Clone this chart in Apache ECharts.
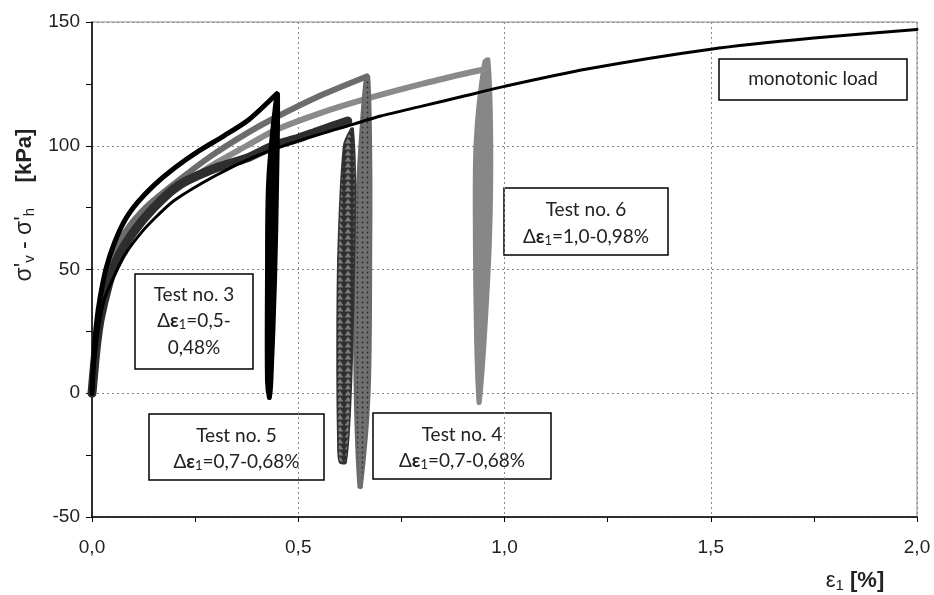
<!DOCTYPE html>
<html><head><meta charset="utf-8">
<script src="https://cdn.jsdelivr.net/npm/echarts@6/dist/echarts.min.js"></script>
<style>html,body{margin:0;padding:0;background:#fff}#c{width:934px;height:595px}</style>
</head><body><div id="c"></div>
<script>
// ---- data (strain % , deviator stress kPa) ----
const xTickValues = [0, 0.5, 1.0, 1.5, 2.0];
const yTickValues = [-50, 0, 50, 100, 150];

const monotonic = [[0,0],[0.005,10],[0.015,25],[0.03,38],[0.05,46],[0.08,56],[0.12,65],[0.16,72],[0.2,78],[0.3,88],[0.4,96],[0.5,102],[0.6,107],[0.7,112],[0.8,116],[0.9,120],[1.0,124],[1.2,131],[1.5,139],[1.75,143.5],[2.0,147]];

const test3Load = [[0,0],[0.004,14],[0.01,27],[0.02,39],[0.035,51],[0.055,61],[0.08,70],[0.11,77],[0.15,84],[0.2,91],[0.26,98],[0.32,104],[0.38,110.5],[0.448,121]];
const test3Band = [[0.446,121],[0.426,86],[0.423,46],[0.423,5],[0.428,-2],[0.432,-2],[0.436,5],[0.445,46],[0.45,86],[0.452,121]];

const test4Load = [[0,0],[0.005,13],[0.01,23],[0.02,35],[0.03,44],[0.05,55],[0.08,65],[0.13,75],[0.21,86],[0.29,96],[0.375,105],[0.44,111],[0.55,120],[0.666,128]];
const test4Band = [[0.662,128],[0.646,94],[0.636,60],[0.637,0],[0.646,-38],[0.654,-38],[0.673,0],[0.677,60],[0.677,94],[0.672,128]];

const test5Load = [[0,0],[0.01,18],[0.02,30],[0.04,44],[0.06,54],[0.1,65],[0.15,75],[0.21,84],[0.3,91],[0.375,95],[0.44,100],[0.5,103],[0.55,106],[0.62,110]];
const test5Band = [[0.628,107],[0.61,100],[0.597,60],[0.594,20],[0.596,-20],[0.6,-28],[0.616,-28],[0.628,0],[0.636,51],[0.638,90],[0.633,107]];

const test6Load = [[0,0],[0.005,12],[0.01,21],[0.02,33],[0.03,42],[0.05,53],[0.08,63],[0.13,73],[0.21,83],[0.29,92],[0.375,100],[0.44,106],[0.55,113],[0.666,119],[0.8,125],[0.9,129],[0.955,131]];
const test6Band = [[0.95,134],[0.929,102],[0.927,62],[0.93,21],[0.936,-4],[0.941,-4],[0.953,21],[0.966,62],[0.969,102],[0.962,135]];

// ---- patterns ----
function triPattern(){
  const c=document.createElement('canvas'); c.width=8; c.height=6;
  const g=c.getContext('2d'); g.fillStyle='#2e2e2e'; g.fillRect(0,0,8,6);
  g.beginPath(); g.moveTo(4,0.6); g.lineTo(7.4,5.4); g.lineTo(0.6,5.4); g.closePath();
  g.fillStyle='#7c7c7c'; g.fill(); return c;
}
function dotPattern(){
  const c=document.createElement('canvas'); c.width=5; c.height=5;
  const g=c.getContext('2d'); g.fillStyle='#707070'; g.fillRect(0,0,5,5);
  g.beginPath(); g.arc(2.5,2.5,0.9,0,Math.PI*2); g.fillStyle='#2a2a2a'; g.fill(); return c;
}

function lineSeries(name, data, color, width, z){
  return {type:'line', name, data, z, showSymbol:false, smooth:0.25, silent:true,
    lineStyle:{color, width, cap:'round', join:'round'}, animation:false};
}
function bandSeries(name, pts, fill, stroke, lw, z){
  return {type:'custom', name, z, silent:true, animation:false,
    data:[pts[0]],
    renderItem:function(params, api){
      return {type:'polygon', shape:{points: pts.map(p=>api.coord(p)), smooth:0.3},
        style:{fill, stroke, lineWidth:lw, lineJoin:'round'}};
    }};
}

const chart = echarts.init(document.getElementById('c'));
const axisFont = {fontFamily:'Liberation Sans', fontSize:19, color:'#222'};
const boxFont = 'Lato';
const BF = 19;
function box(x,y,w,h,lines,lineY){
  const children=[{type:'rect', shape:{x,y,width:w,height:h}, style:{fill:'#fff', stroke:'#000', lineWidth:1.5}}];
  lines.forEach((t,i)=>children.push({type:'text', x:x+w/2, y:lineY[i], style:{text:t, align:'center', verticalAlign:'middle', fontFamily:boxFont, fontSize:BF, fill:'#222',
    rich:{n:{fontFamily:boxFont,fontSize:BF,fill:'#222'}, b:{fontFamily:boxFont,fontSize:BF,fontWeight:'bold',fill:'#222'}, s:{fontFamily:boxFont,fontSize:13,fill:'#222',padding:[8,0,0,0]}}}}));
  return {type:'group', z:100, children};
}

chart.setOption({
  animation:false,
  grid:{left:92, right:17, top:22, bottom:78, show:true, borderColor:'#8c8c8c', borderWidth:1},
  xAxis:{type:'value', min:0, max:2, interval:0.5,
    axisLine:{show:true, onZero:false, lineStyle:{color:'#000', width:1.5}},
    axisTick:{show:true, length:5, inside:false, lineStyle:{color:'#000'}},
    minorTick:{show:true, splitNumber:2, length:5, lineStyle:{color:'#000'}},
    splitLine:{show:true, lineStyle:{color:'#888', type:[2,3], width:1}},
    axisLabel:Object.assign({margin:21, formatter:v=>v.toFixed(1).replace('.',',')}, axisFont)},
  yAxis:{type:'value', min:-50, max:150, interval:50,
    axisLine:{show:true, onZero:false, lineStyle:{color:'#000', width:1.5}},
    axisTick:{show:true, length:6, lineStyle:{color:'#000'}},
    minorTick:{show:true, splitNumber:2, length:6, lineStyle:{color:'#000'}},
    splitLine:{show:true, lineStyle:{color:'#888', type:[2,3], width:1}},
    axisLabel:Object.assign({margin:12, formatter:v=>String(v)}, axisFont)},
  series:[
    bandSeries('Test 6 cycles', test6Band, '#878787', '#878787', 3, 2),
    lineSeries('Test 6', test6Load, '#8a8a8a', 6, 2),
    bandSeries('Test 4 cycles', test4Band, {image:dotPattern(), repeat:'repeat'}, '#6a6a6a', 2, 3),
    lineSeries('Test 4', test4Load, '#6c6c6c', 6, 3),
    bandSeries('Test 5 cycles', test5Band, {image:triPattern(), repeat:'repeat'}, '#333', 1.5, 4),
    lineSeries('Test 5', test5Load, '#2e2e2e', 9, 4),
    bandSeries('Test 3 cycles', test3Band, '#000', '#000', 3, 5),
    lineSeries('Test 3', test3Load, '#000', 5, 5),
    lineSeries('monotonic load', monotonic, '#000', 3, 6)
  ],
  graphic:[
    box(719,59,188,41,['monotonic load'],[79]),
    box(504,188,164,67,['Test no. 6','{n|Δ}{b|ε}{s|1}{n|=1,0-0,98%}'],[210,237]),
    box(373,413,178,66,['Test no. 4','{n|Δ}{b|ε}{s|1}{n|=0,7-0,68%}'],[435,461]),
    box(149,414,175,66,['Test no. 5','{n|Δ}{b|ε}{s|1}{n|=0,7-0,68%}'],[436,462]),
    box(135,274,118,95,['Test no. 3','{n|Δ}{b|ε}{s|1}{n|=0,5-}','0,48%'],[295,321,348]),
    {type:'text', x:25, y:205, rotation:Math.PI/2, z:100, style:{
      text:"{a|σ'}{s|v}{a| - σ'}{s|h}{a|    }{b|[kPa]}", align:'center', verticalAlign:'middle',
      rich:{a:{fontFamily:'Liberation Sans',fontSize:23,fill:'#222'}, s:{fontFamily:'Liberation Sans',fontSize:15,fill:'#222',padding:[10,0,0,0]}, b:{fontFamily:'Liberation Sans',fontSize:22,fontWeight:'bold',fill:'#222'}}}},
    {type:'text', x:855, y:581, z:100, style:{
      text:"{a|ε}{s|1}{b| [%]}", align:'center', verticalAlign:'middle',
      rich:{a:{fontFamily:'Liberation Sans',fontSize:22,fill:'#222'}, s:{fontFamily:'Liberation Sans',fontSize:15,fill:'#222',padding:[9,0,0,0]}, b:{fontFamily:'Liberation Sans',fontSize:22,fontWeight:'bold',fill:'#222'}}}}
  ]
});
</script></body></html>
